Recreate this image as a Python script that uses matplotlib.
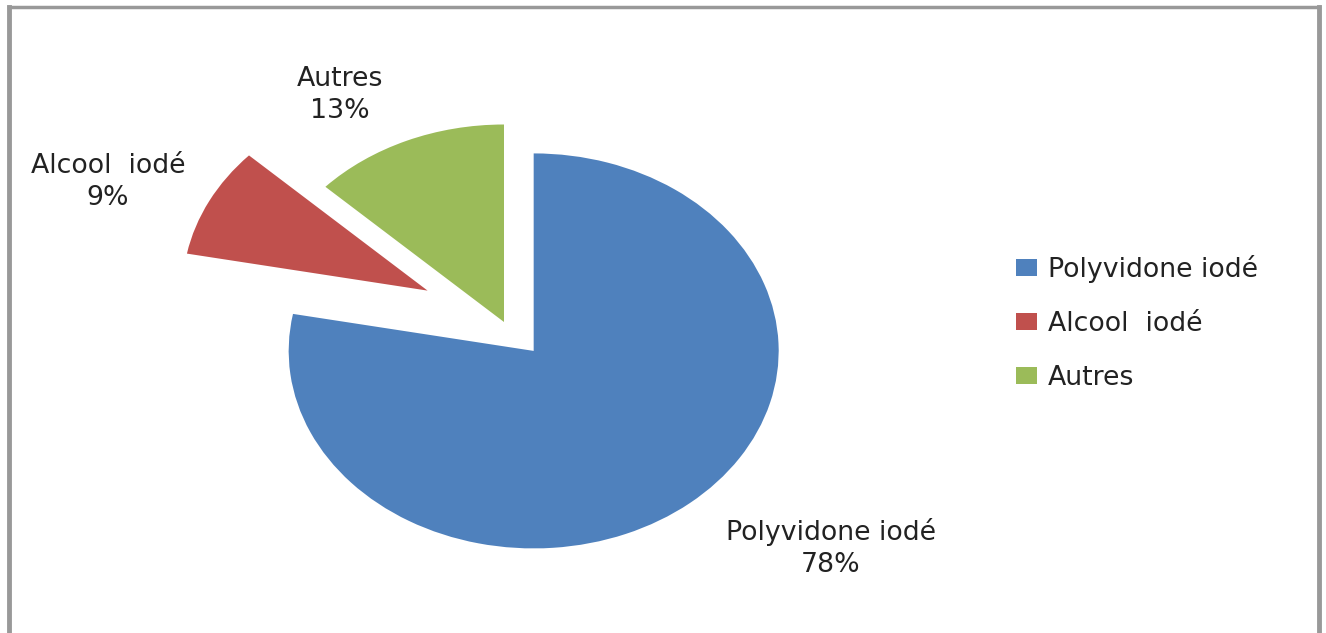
import matplotlib
matplotlib.use("Agg")
import matplotlib.pyplot as plt
from matplotlib.patches import Rectangle
from matplotlib.lines import Line2D

categories = ["Polyvidone iodé", "Alcool  iodé", "Autres"]
values = [78, 9, 13]
colors = ["#4F81BD", "#C0504D", "#9BBB59"]
explode = [0.19, 0.35, 0.0]
label_texts = ["Polyvidone iodé\n78%", "Alcool  iodé\n9%", "Autres\n13%"]

W, H = 1326, 633
fig = plt.figure(figsize=(W / 100, H / 100), dpi=100)
fig.patch.set_facecolor("white")
ax = fig.add_axes([0, 0, 1, 1])

ax.pie(values, colors=colors, explode=explode, startangle=90,
       counterclock=False, radius=1.0,
       wedgeprops=dict(linewidth=0, antialiased=True))

# pixel geometry of pie: centre (504, 322), rx=245, ry=197.5
cx, cy, rx, ry = 504.0, 322.0, 245.0, 197.5
ax.set_aspect("auto")
ax.set_xlim(-cx / rx, (W - cx) / rx)
ax.set_ylim(-(H - cy) / ry, cy / ry)
ax.axis("off")

font = ["DejaVu Sans"]
tcol = "#222222"
fs = 19.3

def px(x, y):
    return x / W, 1 - y / H

label_pos = [(831, 548), (108, 182), (340, 95)]
for txt, (x, y) in zip(label_texts, label_pos):
    fig.text(*px(x, y), txt, ha="center", va="center", fontsize=fs,
             family=font, color=tcol, linespacing=1.28)

handles = [Rectangle((0, 0), 1, 1, facecolor=c, edgecolor="none") for c in colors]
leg = fig.legend(handles, categories, loc="center left",
                 bbox_to_anchor=px(1016, 323), frameon=False,
                 prop=dict(family=font, size=fs), labelcolor=tcol,
                 handlelength=0.78, handleheight=0.62, handletextpad=0.42,
                 labelspacing=1.05, borderpad=0, borderaxespad=0)

# chart border (grey frame, bottom cut off)
border = "#999999"
fig.add_artist(Line2D([9 / W, 9 / W], [0, 1 - 7 / H], color=border, lw=3.5))
fig.add_artist(Line2D([1319 / W, 1319 / W], [0, 1 - 7 / H], color=border, lw=3.5))
fig.add_artist(Line2D([9 / W, 1319 / W], [1 - 7 / H, 1 - 7 / H], color=border, lw=2.5))

fig.savefig("out.png", dpi=100, facecolor="white")
